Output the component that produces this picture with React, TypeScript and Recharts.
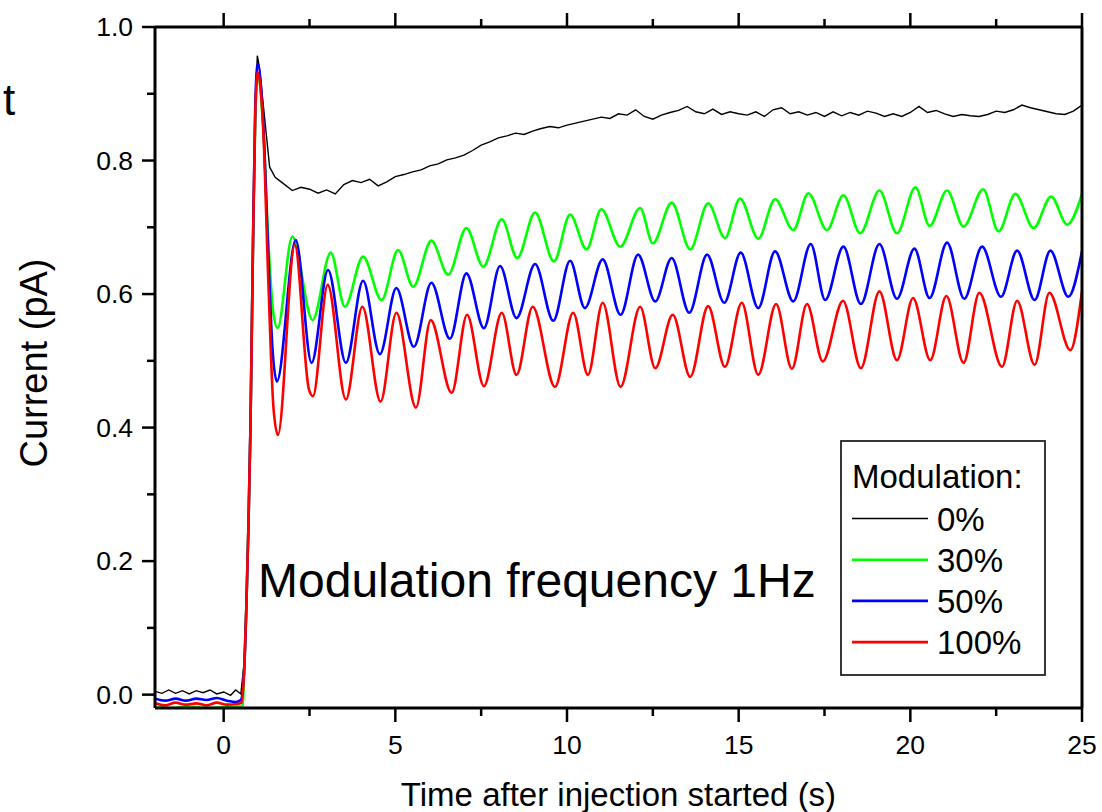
import React from 'react';
import { LineChart, Line, XAxis, YAxis } from 'recharts';

const X_MAJOR = [0, 5, 10, 15, 20, 25];
const X_MINOR = [2.5, 7.5, 12.5, 17.5, 22.5];
const Y_MAJOR = [0, 0.2, 0.4, 0.6, 0.8, 1.0];
const Y_MINOR = [0.1, 0.3, 0.5, 0.7, 0.9];
const X_DOMAIN: [number, number] = [-2, 25];
const Y_DOMAIN: [number, number] = [-0.02, 1.0];

const X_TITLE = 'Time after injection started (s)';
const Y_TITLE = 'Current (pA)';
const NOTE = 'Modulation frequency 1Hz';
const LEGEND_TITLE = 'Modulation:';

// 0% modulation (black)
const mod0: [number, number][] = [
  [-2, 0.005], [-1.8, 0.002], [-1.6, 0.007], [-1.4, 0.002], [-1.2, 0.006], [-1, 0.001],
  [-0.8, 0.006], [-0.6, 0.003], [-0.4, 0.007], [-0.2, 0.001], [0, 0.004], [0.2, -0.001],
  [0.35, 0.007], [0.5, 0.001],
  [0.6, 0.05], [0.66, 0.14], [0.72, 0.26], [0.78, 0.41], [0.85, 0.67], [0.92, 0.88],
  [0.98, 0.957], [1.04, 0.94], [1.14, 0.89], [1.24, 0.84], [1.34, 0.79], [1.5, 0.775],
  [1.75, 0.765], [2.0, 0.755], [2.25, 0.76], [2.5, 0.757], [2.75, 0.751], [3.0, 0.756],
  [3.25, 0.75], [3.5, 0.764], [3.75, 0.77], [4.0, 0.767], [4.25, 0.772], [4.5, 0.762],
  [4.75, 0.768], [5.0, 0.776], [5.25, 0.779], [5.5, 0.783], [5.75, 0.786], [6.0, 0.792],
  [6.25, 0.795], [6.5, 0.801], [6.75, 0.804], [7.0, 0.808], [7.25, 0.815], [7.5, 0.823],
  [7.75, 0.828], [8.0, 0.834], [8.25, 0.837], [8.5, 0.841], [8.75, 0.839], [9.0, 0.844],
  [9.25, 0.848], [9.5, 0.851], [9.75, 0.849], [10.0, 0.853], [10.25, 0.856], [10.5, 0.859],
  [10.75, 0.862], [11.0, 0.865], [11.25, 0.863], [11.5, 0.87], [11.75, 0.868], [12.0, 0.876],
  [12.25, 0.866], [12.5, 0.862], [12.75, 0.868], [13.0, 0.872], [13.25, 0.875], [13.5, 0.881],
  [13.75, 0.873], [14.0, 0.87], [14.25, 0.877], [14.5, 0.869], [14.75, 0.873], [15.0, 0.87],
  [15.25, 0.868], [15.5, 0.873], [15.75, 0.866], [16.0, 0.876], [16.25, 0.879], [16.5, 0.87],
  [16.75, 0.873], [17.0, 0.868], [17.25, 0.872], [17.5, 0.866], [17.75, 0.873], [18.0, 0.867],
  [18.25, 0.872], [18.5, 0.868], [18.75, 0.874], [19.0, 0.871], [19.25, 0.866], [19.5, 0.87],
  [19.75, 0.866], [20.0, 0.872], [20.25, 0.881], [20.5, 0.872], [20.75, 0.875], [21.0, 0.87],
  [21.25, 0.866], [21.5, 0.869], [21.75, 0.867], [22.0, 0.866], [22.25, 0.869], [22.5, 0.874],
  [22.75, 0.872], [23.0, 0.876], [23.25, 0.883], [23.5, 0.879], [23.75, 0.876], [24.0, 0.873],
  [24.25, 0.87], [24.5, 0.869], [24.75, 0.874], [25.0, 0.883],
];

// 30% modulation (green)
const mod30: [number, number][] = [
  [-2, -0.019], [-1.5, -0.02], [-1, -0.018], [-0.5, -0.02], [0, -0.019], [0.55, -0.018],
  [0.6, 0.04], [0.66, 0.13], [0.72, 0.25], [0.78, 0.4], [0.85, 0.66], [0.92, 0.86],
  [0.99, 0.925], [1.15, 0.85], [1.3, 0.68], [1.45, 0.57], [1.57, 0.549], [2.0, 0.686],
  [2.59, 0.561], [3.12, 0.662], [3.53, 0.581], [4.06, 0.656], [4.6, 0.591], [5.08, 0.666],
  [5.52, 0.611], [6.05, 0.68], [6.54, 0.629], [7.07, 0.699], [7.56, 0.641], [8.1, 0.712],
  [8.55, 0.654], [9.07, 0.722], [9.62, 0.649], [10.09, 0.719], [10.57, 0.667], [11.0, 0.727],
  [11.55, 0.671], [12.13, 0.729], [12.5, 0.676], [13.05, 0.737], [13.59, 0.667], [14.11, 0.736],
  [14.6, 0.684], [15.04, 0.743], [15.57, 0.683], [16.06, 0.742], [16.59, 0.696], [17.03, 0.751],
  [17.57, 0.696], [18.05, 0.748], [18.54, 0.691], [19.1, 0.755], [19.61, 0.691], [20.15, 0.76],
  [20.56, 0.702], [21.07, 0.755], [21.55, 0.701], [22.12, 0.757], [22.57, 0.694], [23.06, 0.75],
  [23.59, 0.699], [24.1, 0.746], [24.57, 0.704], [25.0, 0.75],
];

// 50% modulation (blue)
const mod50: [number, number][] = [
  [-2, -0.006], [-1.7, -0.009], [-1.4, -0.006], [-1.1, -0.009], [-0.8, -0.006], [-0.5, -0.008],
  [-0.2, -0.005], [0.1, -0.009], [0.35, -0.011], [0.5, -0.008],
  [0.6, 0.04], [0.66, 0.13], [0.72, 0.25], [0.78, 0.4], [0.85, 0.66], [0.92, 0.88],
  [0.99, 0.945], [1.15, 0.86], [1.3, 0.66], [1.42, 0.52], [1.55, 0.469], [2.1, 0.681],
  [2.56, 0.497], [3.04, 0.636], [3.56, 0.497], [4.06, 0.62], [4.55, 0.51], [5.03, 0.609],
  [5.54, 0.521], [6.05, 0.617], [6.59, 0.533], [7.07, 0.631], [7.58, 0.549], [8.05, 0.642],
  [8.53, 0.564], [9.07, 0.645], [9.6, 0.56], [10.09, 0.65], [10.52, 0.579], [11.04, 0.652],
  [11.56, 0.569], [12.07, 0.659], [12.57, 0.589], [13.05, 0.654], [13.56, 0.572], [14.08, 0.659],
  [14.58, 0.587], [15.06, 0.662], [15.57, 0.579], [16.06, 0.664], [16.59, 0.589], [17.1, 0.675],
  [17.52, 0.591], [18.05, 0.671], [18.56, 0.585], [19.1, 0.675], [19.61, 0.593], [20.12, 0.668],
  [20.56, 0.594], [21.07, 0.677], [21.57, 0.593], [22.09, 0.671], [22.64, 0.596], [23.11, 0.665],
  [23.62, 0.591], [24.08, 0.665], [24.6, 0.596], [25.0, 0.664],
];

// 100% modulation (red)
const mod100: [number, number][] = [
  [-2, -0.013], [-1.7, -0.016], [-1.4, -0.012], [-1.1, -0.015], [-0.8, -0.013], [-0.5, -0.016],
  [-0.2, -0.012], [0.1, -0.015], [0.4, -0.014], [0.52, -0.012],
  [0.6, 0.04], [0.66, 0.13], [0.72, 0.25], [0.78, 0.4], [0.85, 0.66], [0.92, 0.87],
  [0.99, 0.932], [1.15, 0.85], [1.3, 0.62], [1.45, 0.43], [1.58, 0.389], [2.07, 0.674],
  [2.48, 0.458], [2.6, 0.447], [3.03, 0.614], [3.56, 0.442], [4.04, 0.581], [4.57, 0.439],
  [5.03, 0.572], [5.6, 0.43], [6.03, 0.561], [6.64, 0.452], [7.09, 0.569], [7.58, 0.462],
  [8.1, 0.572], [8.53, 0.479], [9.0, 0.581], [9.65, 0.461], [10.18, 0.572], [10.61, 0.479],
  [11.04, 0.587], [11.56, 0.461], [12.13, 0.581], [12.57, 0.489], [13.08, 0.569], [13.59, 0.476],
  [14.11, 0.582], [14.6, 0.491], [15.09, 0.587], [15.57, 0.479], [16.09, 0.585], [16.55, 0.488],
  [16.99, 0.585], [17.45, 0.499], [18.04, 0.59], [18.56, 0.489], [19.1, 0.604], [19.61, 0.501],
  [20.08, 0.594], [20.58, 0.501], [21.05, 0.597], [21.55, 0.497], [22.01, 0.602], [22.67, 0.491],
  [23.11, 0.59], [23.62, 0.494], [24.05, 0.602], [24.66, 0.516], [25.0, 0.604],
];

const toPoints = (arr: [number, number][]) => arr.map(([t, v]) => ({ t, v }));

const SERIES = [
  { name: '0%', color: '#000000', width: 1.4, curve: 'linear', data: toPoints(mod0) },
  { name: '30%', color: '#00ff00', width: 2.6, curve: 'monotone', data: toPoints(mod30) },
  { name: '50%', color: '#0000ff', width: 2.6, curve: 'monotone', data: toPoints(mod50) },
  { name: '100%', color: '#ff0000', width: 2.6, curve: 'monotone', data: toPoints(mod100) },
];

const FONT = '"Liberation Sans", Arial, Helvetica, sans-serif';

const BottomTick = (props: any) => {
  const { x, y, payload } = props;
  const major = X_MAJOR.includes(payload.value);
  return (
    <g>
      <line x1={x} x2={x} y1={y} y2={y + (major ? 14 : 8)} stroke="#000" strokeWidth={2.5} />
      {major && (
        <text x={x} y={y + 46} textAnchor="middle" fontSize={26.5} fontFamily={FONT} fill="#000">
          {payload.value}
        </text>
      )}
    </g>
  );
};

const TopTick = (props: any) => {
  const { x, y, payload } = props;
  const major = X_MAJOR.includes(payload.value);
  return <line x1={x} x2={x} y1={y} y2={y - (major ? 14 : 8)} stroke="#000" strokeWidth={2.5} />;
};

const LeftTick = (props: any) => {
  const { x, y, payload } = props;
  const major = Y_MAJOR.some((m) => Math.abs(m - payload.value) < 1e-9);
  return (
    <g>
      <line x1={x} x2={x - (major ? 13 : 8)} y1={y} y2={y} stroke="#000" strokeWidth={2.5} />
      {major && (
        <text x={x - 22} y={y + 9} textAnchor="end" fontSize={26.5} fontFamily={FONT} fill="#000">
          {payload.value.toFixed(1)}
        </text>
      )}
    </g>
  );
};

const xTicks = [...X_MAJOR, ...X_MINOR].sort((a, b) => a - b);
const yTicks = [...Y_MAJOR, ...Y_MINOR].sort((a, b) => a - b);

export default function App() {
  const axisLine = { stroke: '#000', strokeWidth: 3 };
  return (
    <div style={{ position: 'absolute', left: 0, top: 0, width: 1102, height: 812, background: '#fff' }}>
      <LineChart width={1102} height={812} margin={{ top: 17, right: 19, bottom: 0, left: 95 }}>
        <XAxis
          xAxisId="bottom"
          type="number"
          dataKey="t"
          domain={X_DOMAIN}
          allowDataOverflow
          ticks={xTicks}
          interval={0}
          tickSize={0}
          tickMargin={0}
          tickLine={false}
          tick={<BottomTick />}
          axisLine={axisLine}
          height={104}
        />
        <XAxis
          xAxisId="top"
          orientation="top"
          type="number"
          dataKey="t"
          domain={X_DOMAIN}
          allowDataOverflow
          ticks={xTicks}
          interval={0}
          tickSize={0}
          tickMargin={0}
          tickLine={false}
          tick={<TopTick />}
          axisLine={axisLine}
          height={10}
        />
        <YAxis
          yAxisId="left"
          type="number"
          domain={Y_DOMAIN}
          allowDataOverflow
          ticks={yTicks}
          interval={0}
          tickSize={0}
          tickMargin={0}
          tickLine={false}
          tick={<LeftTick />}
          axisLine={axisLine}
          width={60}
        />
        <YAxis
          yAxisId="right"
          orientation="right"
          type="number"
          domain={Y_DOMAIN}
          allowDataOverflow
          tick={false}
          tickLine={false}
          axisLine={axisLine}
          width={1}
        />
        {SERIES.map((s) => (
          <Line
            key={s.name}
            xAxisId="bottom"
            yAxisId="left"
            data={s.data}
            dataKey="v"
            name={s.name}
            type={s.curve as any}
            stroke={s.color}
            strokeWidth={s.width}
            dot={false}
            activeDot={false}
            isAnimationActive={false}
          />
        ))}
      </LineChart>
      <svg
        width={1102}
        height={812}
        style={{ position: 'absolute', left: 0, top: 0, pointerEvents: 'none' }}
        fontFamily={FONT}
      >
        <text x={3} y={115} fontSize={44} fill="#000">t</text>
        <text
          x={0}
          y={0}
          transform="translate(47,363) rotate(-90)"
          textAnchor="middle"
          fontSize={38}
          fill="#000"
        >
          {Y_TITLE}
        </text>
        <text x={618.5} y={806} textAnchor="middle" fontSize={33} fill="#000">{X_TITLE}</text>
        <text x={258} y={597} fontSize={48} fill="#000">{NOTE}</text>
        <g>
          <rect x={841} y={441} width={204} height={234} fill="#fff" stroke="#222" strokeWidth={1.8} />
          <text x={852} y={488} fontSize={33} fill="#000">{LEGEND_TITLE}</text>
          {SERIES.map((s, i) => {
            const ly = 518.5 + i * 41.2;
            return (
              <g key={s.name}>
                <line x1={852} x2={928} y1={ly} y2={ly} stroke={s.color} strokeWidth={s.width} />
                <text x={937} y={ly + 12} fontSize={33} fill="#000">{s.name}</text>
              </g>
            );
          })}
        </g>
      </svg>
    </div>
  );
}
